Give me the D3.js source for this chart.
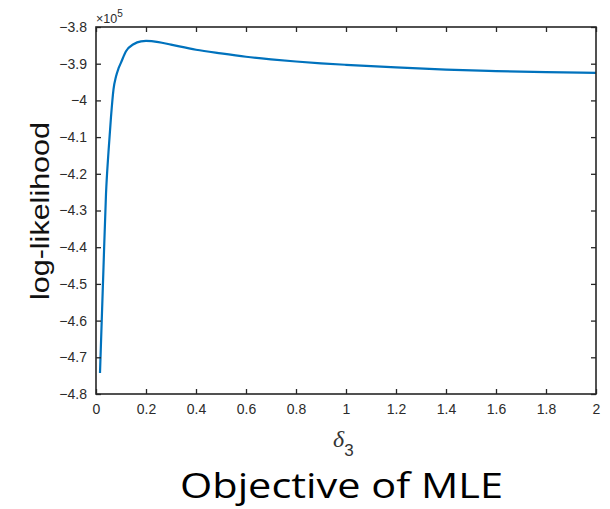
<!DOCTYPE html>
<html>
<head>
<meta charset="utf-8">
<script src="https://cdn.jsdelivr.net/npm/d3@7"></script>
<style>
  html, body { margin: 0; padding: 0; background: #fff; }
  svg { display: block; }
</style>
</head>
<body>
<svg id="chart" width="610" height="509"></svg>
<script>
// Log-likelihood of the model as a function of delta_3
const delta3 = [0.016, 0.023, 0.03, 0.04, 0.05, 0.06, 0.07, 0.08, 0.09, 0.10, 0.12, 0.15, 0.18,
                0.20, 0.25, 0.30, 0.40, 0.50, 0.60, 0.70, 0.80, 0.90, 1.00, 1.20, 1.40,
                1.60, 1.80, 2.00];
const logLik = [-474300, -459800, -445500, -425500, -414000, -404500, -397000, -393500, -391300,
                -389700, -386600, -384700, -383900, -383800, -384100, -384800, -386200,
                -387200, -388100, -388800, -389400, -389900, -390300, -391000, -391600,
                -392000, -392300, -392500];

const xTicks = [0, 0.2, 0.4, 0.6, 0.8, 1, 1.2, 1.4, 1.6, 1.8, 2];
const yTicks = [-480000, -470000, -460000, -450000, -440000, -430000, -420000, -410000,
                -400000, -390000, -380000];
const yExponent = 5;

const svg = d3.select("#chart");
const plot = { left: 96, right: 596, top: 27, bottom: 394 };

const x = d3.scaleLinear().domain([0, 2]).range([plot.left, plot.right]);
const y = d3.scaleLinear().domain([-480000, -380000]).range([plot.bottom, plot.top]);

const axisColor = "#262626";
const labelColor = "#2b2b2b";
const tickLen = 5;
const fmtY = d => d3.format("")(+(d / Math.pow(10, yExponent)).toFixed(1));
const fmtX = d => d3.format("")(+d.toFixed(1));

// Curve
svg.append("path")
  .datum(delta3.map((d, i) => [d, logLik[i]]))
  .attr("fill", "none")
  .attr("stroke", "#0072BD")
  .attr("stroke-width", 2.2)
  .attr("stroke-linejoin", "round")
  .attr("d", d3.line().x(d => x(d[0])).y(d => y(d[1])).curve(d3.curveMonotoneX));

// Axes with inward ticks on all four sides
const axisStyle = g => {
  g.select(".domain").remove();
  g.selectAll(".tick line").attr("stroke", axisColor).attr("stroke-width", 1.3);
  g.selectAll(".tick text")
    .attr("fill", labelColor)
    .attr("font-family", "Liberation Sans, Arial, sans-serif")
    .attr("font-size", 14);
};

svg.append("g")
  .attr("transform", `translate(0,${plot.bottom})`)
  .call(d3.axisBottom(x).tickValues(xTicks).tickFormat(fmtX).tickSizeInner(-tickLen).tickPadding(10))
  .call(axisStyle);

svg.append("g")
  .attr("transform", `translate(0,${plot.top})`)
  .call(d3.axisTop(x).tickValues(xTicks).tickFormat("").tickSizeInner(-tickLen))
  .call(axisStyle);

svg.append("g")
  .attr("transform", `translate(${plot.left},0)`)
  .call(d3.axisLeft(y).tickValues(yTicks).tickFormat(fmtY).tickSizeInner(-tickLen).tickPadding(9))
  .call(axisStyle);

svg.append("g")
  .attr("transform", `translate(${plot.right},0)`)
  .call(d3.axisRight(y).tickValues(yTicks).tickFormat("").tickSizeInner(-tickLen))
  .call(axisStyle);

// Box
svg.append("rect")
  .attr("x", plot.left).attr("y", plot.top)
  .attr("width", plot.right - plot.left).attr("height", plot.bottom - plot.top)
  .attr("fill", "none").attr("stroke", axisColor).attr("stroke-width", 1.6);

// Exponent marker
const expo = svg.append("text")
  .attr("x", plot.left).attr("y", 23)
  .attr("fill", labelColor)
  .attr("font-family", "Liberation Sans, Arial, sans-serif")
  .attr("font-size", 12.5);
expo.append("tspan").text("×10");
expo.append("tspan").attr("dy", -6).attr("font-size", 10).text(String(yExponent));

// Y label
svg.append("text")
  .attr("transform", "translate(49,211) rotate(-90)")
  .attr("text-anchor", "middle")
  .attr("fill", "#111")
  .attr("font-family", "Liberation Sans, Arial, sans-serif")
  .attr("font-size", 26)
  .attr("textLength", 178)
  .attr("lengthAdjust", "spacingAndGlyphs")
  .text("log-likelihood");

// X label: delta with subscript 3
const xl = svg.append("text")
  .attr("x", 333).attr("y", 447)
  .attr("fill", "#333");
xl.append("tspan")
  .attr("font-family", "Liberation Serif, Times New Roman, serif")
  .attr("font-style", "italic")
  .attr("font-size", 24)
  .text("δ");
xl.append("tspan")
  .attr("dy", 9)
  .attr("font-family", "Liberation Sans, Arial, sans-serif")
  .attr("font-size", 17)
  .text("3");

// Caption
svg.append("text")
  .attr("x", 180).attr("y", 498)
  .attr("fill", "#000")
  .attr("font-family", "Open Sans, Lato, sans-serif")
  .attr("font-size", 35)
  .attr("textLength", 323)
  .attr("lengthAdjust", "spacingAndGlyphs")
  .text("Objective of MLE");
</script>
</body>
</html>
